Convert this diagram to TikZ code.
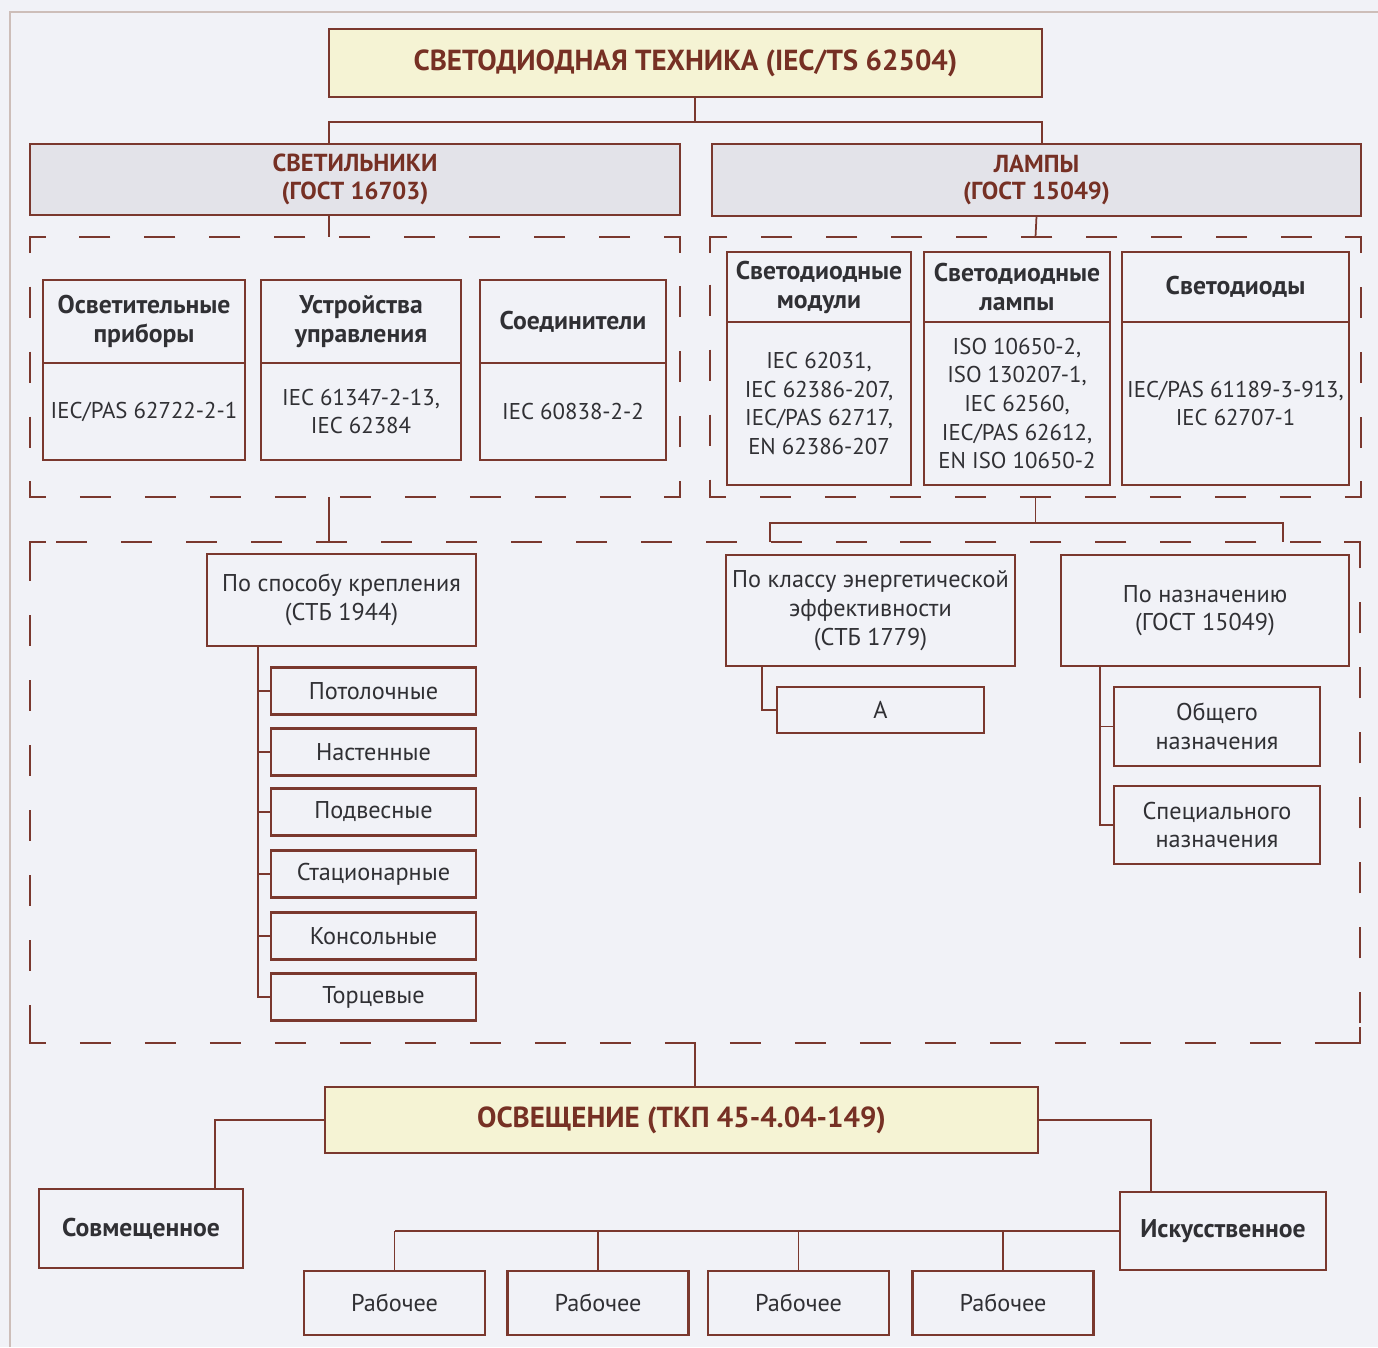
\documentclass[tikz,border=0pt]{standalone}
\usepackage{fontspec}
\setmainfont{PT Sans}
\definecolor{brd}{RGB}{122,56,46}
\definecolor{ttl}{RGB}{118,48,36}
\definecolor{txt}{RGB}{48,48,52}
\definecolor{cream}{RGB}{245,243,212}
\definecolor{greybox}{RGB}{227,227,233}
\definecolor{paper}{RGB}{241,242,247}
\definecolor{framec}{RGB}{205,190,185}
\newcommand{\pxu}{0.02cm}
\tikzset{>=stealth,
  wh/.style 2 args={minimum width=#1*\pxu, minimum height=#2*\pxu},
  box/.style={draw=brd, line width=1.3pt, fill=paper, inner sep=2pt, outer sep=0pt,
    align=center, text=txt, font=\fontsize{13.8}{16.3}\selectfont},
  normbox/.style={box, font=\fontsize{13}{16.3}\selectfont},
  headbox/.style={box, font=\bfseries\fontsize{14.6}{16.5}\selectfont},
  mainbox/.style={box, fill=cream, text=ttl, font=\bfseries\fontsize{16.5}{18}\selectfont},
  secbox/.style={box, fill=greybox, text=ttl, font=\bfseries\fontsize{14}{15.8}\selectfont},
  groupbox/.style={draw=brd, line width=1.3pt, dash pattern=on 0.62cm off 0.68cm,
    dash phase=0.3cm, inner sep=0pt, outer sep=0pt},
  corner/.style={draw=brd, line width=1.3pt},
  link/.style={draw=brd, line width=1pt}}

\begin{document}
\begin{tikzpicture}[x=0.02cm, y=-0.02cm]
    \fill[paper] (0,0) rectangle (1378,1347);
    \useasboundingbox (0,0) rectangle (1378,1347);
    \draw[framec, line width=0.6pt] (10,1347) -- (10,12) -- (1378,12);

    % top level
    \node[mainbox, wh={713}{68}] (tech) at (685.5,63) {СВЕТОДИОДНАЯ ТЕХНИКА (IEC/TS 62504)};
    \node[secbox, wh={650}{71}] (svet) at (355,179.5) {СВЕТИЛЬНИКИ\\(ГОСТ 16703)};
    \node[secbox, wh={649}{72}] (lamp) at (1036.5,180) {ЛАМПЫ\\(ГОСТ 15049)};

    % dashed groups
    \node[groupbox, wh={650}{260}] (gl) at (355,367) {};
    \node[groupbox, wh={651}{260}] (gr) at (1035.5,367) {};
    \node[groupbox, wh={1330}{501}] (gb) at (695,792.5) {};
    \foreach \g in {gl,gr,gb} {
        \draw[corner] ([yshift=-16*\pxu]\g.north west) -- (\g.north west) -- ([xshift=16*\pxu]\g.north west);
        \draw[corner] ([xshift=-16*\pxu]\g.north east) -- (\g.north east) -- ([yshift=-16*\pxu]\g.north east);
        \draw[corner] ([yshift=16*\pxu]\g.south west) -- (\g.south west) -- ([xshift=16*\pxu]\g.south west);
        \draw[corner] ([xshift=-16*\pxu]\g.south east) -- (\g.south east) -- ([yshift=16*\pxu]\g.south east);
    }

    % luminaires
    \node[headbox, wh={202}{83}] (osvh) at (144,321.5) {Осветительные\\приборы};
    \node[normbox, wh={202}{97}, anchor=north] (osvb) at (osvh.south) {IEC/PAS 62722-2-1};
    \node[headbox, wh={200}{83}] (uprh) at (361,321.5) {Устройства\\управления};
    \node[normbox, wh={200}{97}, anchor=north] (uprb) at (uprh.south) {IEC 61347-2-13,\\IEC 62384};
    \node[headbox, wh={186}{83}] (soedh) at (573,321.5) {Соединители};
    \node[normbox, wh={186}{97}, anchor=north] (soedb) at (soedh.south) {IEC 60838-2-2};

    % lamps
    \node[headbox, wh={184}{70}] (modh) at (819,287) {Светодиодные\\модули};
    \node[normbox, wh={184}{163}, anchor=north] (modb) at (modh.south) {IEC 62031,\\IEC 62386-207,\\IEC/PAS 62717,\\EN 62386-207};
    \node[headbox, wh={186}{70}] (lmph) at (1017,287) {Светодиодные\\лампы};
    \node[normbox, wh={186}{163}, anchor=north] (lmpb) at (lmph.south) {ISO 10650-2,\\ISO 130207-1,\\IEC 62560,\\IEC/PAS 62612,\\EN ISO 10650-2};
    \node[headbox, wh={227}{70}] (diodh) at (1235.5,287) {Светодиоды};
    \node[normbox, wh={227}{163}, anchor=north] (diodb) at (diodh.south) {IEC/PAS 61189-3-913,\\IEC 62707-1};

    % connectors, top part
    \coordinate (tbus) at (695,122);
    \draw[link] ([xshift=9.5*\pxu]tech.south) -- (tbus);
    \draw[link] (svet.north -| tech.west) |- (tbus) -| (lamp.north -| tech.east);
    \draw[link] (svet.south -| tech.west) -- (gl.north -| tech.west);
    \draw[link] (lamp.south) -- (gr.north);
    \draw[link] (gl.south -| tech.west) -- (gb.north -| tech.west);
    \coordinate (rbus) at (1035.5,523);
    \coordinate (rb1) at (770,542);
    \coordinate (rb2) at (1283,542);
    \draw[link] (gr.south) -- (rbus);
    \draw[link] (rb1) |- (rbus) -| (rb2);

    % mounting
    \node[box, wh={269}{92}] (spos) at (341.5,600) {По способу крепления\\(СТБ 1944)};
    \foreach \y/\lbl [count=\i] in {691/Потолочные, 752/Настенные, 812/Подвесные,
        874/Стационарные, 936/Консольные, 997/Торцевые}
        \node[box, wh={205}{47}] (m\i) at (373.5,\y) {\lbl};
    \coordinate (mtop) at ([xshift=51*\pxu]spos.south west);
    \foreach \i in {1,...,6}
        \draw[link] (mtop) |- (m\i.west);

    % energy class and purpose
    \node[box, wh={289}{111}] (klass) at (870.5,610.5) {По классу энергетической\\эффективности\\(СТБ 1779)};
    \node[box, wh={207}{46}] (acl) at (880.5,710) {А};
    \draw[link] ([xshift=36*\pxu]klass.south west) |- (acl.west);
    \node[box, wh={288}{111}] (naz) at (1205,610.5) {По назначению\\(ГОСТ 15049)};
    \node[box, wh={206}{79}] (obsh) at (1217,726.5) {Общего\\назначения};
    \node[box, wh={206}{78}] (spec) at (1217,825) {Специального\\назначения};
    \draw[link] ([xshift=39*\pxu]naz.south west) |- (obsh.west);
    \draw[link] ([xshift=39*\pxu]naz.south west) |- (spec.west);

    % lighting
    \node[mainbox, wh={713}{66}] (osv) at (681.5,1120) {ОСВЕЩЕНИЕ (ТКП 45-4.04-149)};
    \draw[link] (gb.south) -- (gb.south |- osv.north);
    \node[headbox, wh={204}{79}] (sovm) at (141,1228.5) {Совмещенное};
    \node[headbox, wh={206}{78}] (isk) at (1223,1231) {Искусственное};
    \draw[link] (osv.west) -| ([xshift=74*\pxu]sovm.north);
    \draw[link] (osv.east) -| ([xshift=-72*\pxu]isk.north);
    \foreach \x [count=\i] in {394.5,598,798.5,1003}
        \node[box, wh={181}{64}] (r\i) at (\x,1303) {Рабочее};
    \draw[link] (isk.west) -- (isk.west -| r1.north);
    \foreach \i in {1,...,4}
        \draw[link] (r\i.north) -- (r\i.north |- isk.west);
\end{tikzpicture}
\end{document}
